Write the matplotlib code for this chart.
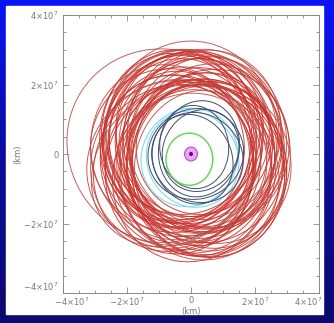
import numpy as np
import matplotlib
matplotlib.use("Agg")
import matplotlib.pyplot as plt
from matplotlib.patches import Ellipse, Circle, Rectangle
from matplotlib.transforms import ScaledTranslation

# units of 1e7 km
tick_vals = [-4, -2, 0, 2, 4]
tick_labels = [r'$-4{\times}10^7$', r'$-2{\times}10^7$', '0', r'$2{\times}10^7$', r'$4{\times}10^7$']

# red orbits: centre x, centre y, width, height, angle (deg)
red_cx = [-0.75, 0.00, 0.40, 0.60, -0.55, 0.25, -0.35, 0.50, -0.60, 0.10,
          0.40, -0.25, 0.50, -0.50, 0.30, -0.10, 0.45, -0.40, 0.20, 0.65,
          -0.30, 0.10, 0.35, -0.55, 0.45, -0.20, 0.25, -0.45, 0.60, 0.00,
          -0.35, 0.40, -0.05, 0.25, -0.65, 0.50, 0.15, -0.25, 0.40, -0.45,
          0.05, -0.15, 0.55, -0.40, -0.60, -0.45, 0.40, -0.35, 0.30]
red_cy = [0.20, 0.45, -0.50, -0.10, -0.40, 0.40, 0.55, -0.40, 0.10, -0.55,
          0.30, -0.25, 0.45, 0.40, -0.15, 0.60, -0.50, -0.05, 0.25, -0.25,
          0.45, -0.40, 0.10, -0.30, 0.35, 0.25, -0.60, 0.50, 0.10, 0.35,
          -0.45, -0.20, 0.55, 0.40, 0.05, -0.40, -0.15, 0.30, 0.55, -0.25,
          -0.55, 0.60, -0.35, 0.35, -0.20, -0.30, 0.30, 0.25, -0.35]
red_w = [6.30, 5.40, 5.20, 5.40, 5.10, 5.30, 5.00, 5.20, 5.10, 5.30,
         5.10, 4.90, 5.20, 5.00, 5.00, 5.10, 5.10, 4.90, 5.00, 5.00,
         5.00, 5.10, 4.80, 5.20, 5.00, 4.80, 5.10, 5.00, 5.00, 5.50,
         4.90, 5.00, 4.80, 5.10, 5.20, 5.00, 4.80, 4.90, 5.00, 5.10,
         4.90, 4.90, 4.90, 5.00, 5.40, 5.60, 4.30, 4.30, 4.40]
red_h = [5.60, 5.60, 4.90, 5.00, 4.70, 5.00, 4.70, 4.90, 4.70, 4.90,
         4.80, 4.60, 4.90, 4.70, 4.60, 4.80, 4.80, 4.60, 4.70, 4.60,
         4.70, 4.80, 4.50, 4.80, 4.70, 4.50, 4.80, 4.70, 4.60, 5.10,
         4.60, 4.70, 4.50, 4.80, 4.80, 4.70, 4.50, 4.60, 4.70, 4.70,
         4.60, 4.60, 4.60, 4.70, 4.60, 4.40, 4.00, 4.00, 4.10]
red_ang = [-15, 0, 10, 80, 30, -40, 60, 120, -10, 45,
           150, 20, -60, 100, 75, 5, 135, -25, 90, 160,
           40, -70, 110, 15, 55, 170, -35, 95, 25, 140,
           65, -5, 125, 35, -50, 85, 155, -80, 50, 115,
           0, 30, 140, 70, 20, 30, 30, 110, 70]
red_col = ['#b8504c', '#b8504c', '#c44a44', '#b8504c', '#c7332b', '#c7332b', '#b8504c', '#c7332b', '#d02e26', '#c7332b',
           '#d02e26', '#c7332b', '#b8504c', '#c7332b', '#d02e26', '#c44a44', '#c7332b', '#d02e26', '#d02e26', '#c44a44',
           '#d02e26', '#c7332b', '#d02e26', '#c44a44', '#c7332b', '#d02e26', '#c44a44', '#d02e26', '#c7332b', '#b8504c',
           '#d02e26', '#c7332b', '#d02e26', '#c44a44', '#b8504c', '#c7332b', '#d02e26', '#d02e26', '#c44a44', '#c7332b',
           '#c44a44', '#d02e26', '#c7332b', '#d02e26', '#b8504c', '#b8504c', '#c7332b', '#d02e26', '#c44a44']

# dark blue orbits
blue_cx = [0.15, 0.25, 0.05, 0.30, 0.10, 0.20]
blue_cy = [0.00, 0.15, -0.15, 0.10, 0.20, -0.10]
blue_w = [3.00, 2.80, 2.70, 2.50, 2.40, 2.90]
blue_h = [2.60, 2.50, 2.40, 2.25, 2.15, 2.55]
blue_ang = [10, 70, 130, 40, 100, 160]

# cyan orbits
cyan_cx = [-0.05, 0.05]
cyan_cy = [-0.10, -0.15]
cyan_w = [3.05, 2.95]
cyan_h = [2.80, 2.70]
cyan_ang = [20, -30]

# green orbit, central body
green = (-0.05, -0.15, 1.46, 1.50)
body_r = 0.2
core_r = 0.06

fig = plt.figure(figsize=(3.34, 3.23), dpi=100)

# blue slide background with a vertical gradient
bg = fig.add_axes([0, 0, 1, 1], zorder=-2)
grad = np.linspace(0, 1, 256).reshape(-1, 1)
bg.imshow(grad, aspect='auto', extent=[0, 1, 0, 1], origin='upper',
          cmap=matplotlib.colors.LinearSegmentedColormap.from_list('slide', ['#0a14f8', '#0b0c9a', '#0a0a70']))
bg.add_patch(Rectangle((6 / 334, 9 / 323), 317 / 334, 308 / 323, color='white', transform=bg.transAxes))
bg.set_xlim(0, 1)
bg.set_ylim(0, 1)
bg.axis('off')

ax = fig.add_axes([63 / 334, 30 / 323, 256 / 334, 278 / 323])
ax.set_facecolor('none')

for i in range(len(red_cx)):
    ax.add_patch(Ellipse((red_cx[i], red_cy[i]), red_w[i], red_h[i], angle=red_ang[i],
                         fill=False, ec=red_col[i], lw=0.7, alpha=0.9))
for i in range(len(cyan_cx)):
    ax.add_patch(Ellipse((cyan_cx[i], cyan_cy[i]), cyan_w[i], cyan_h[i], angle=cyan_ang[i],
                         fill=False, ec='#7fdcec', lw=0.8))
for i in range(len(blue_cx)):
    ax.add_patch(Ellipse((blue_cx[i], blue_cy[i]), blue_w[i], blue_h[i], angle=blue_ang[i],
                         fill=False, ec='#3e4e70', lw=0.7))
ax.add_patch(Ellipse(green[:2], green[2], green[3], fill=False, ec='#6ad65a', lw=1.1))
ax.add_patch(Circle((0, 0), body_r, fc='#eaa6f2', ec='#c046d4', lw=0.8))
ax.add_patch(Circle((0, 0), core_r, fc='#5a0a70', ec='none'))

ax.set_xlim(-4, 4)
ax.set_ylim(-4, 4)
ax.set_xticks(tick_vals)
ax.set_yticks(tick_vals)
ax.set_xticklabels(tick_labels)
ax.set_yticklabels(tick_labels)
ax.set_xticks(np.arange(-4, 4.01, 0.5), minor=True)
ax.set_yticks(np.arange(-4, 4.01, 0.5), minor=True)
ax.tick_params(which='both', direction='in', top=True, right=True, color='#888888',
               width=0.6, labelsize=6, labelcolor='#777777')
ax.tick_params(axis='x', pad=2)
ax.tick_params(axis='y', pad=3)
ax.tick_params(which='major', length=4)
ax.tick_params(which='minor', length=2)
for s in ax.spines.values():
    s.set_color('#888888')
    s.set_linewidth(0.7)
ax.set_xlabel('(km)', fontsize=6, color='#777777', labelpad=-1)
ax.set_ylabel('(km)', fontsize=6, color='#777777', labelpad=1)

# edge labels sit a little inward, as in the original
xl = ax.get_xticklabels()
xl[0].set_ha('left')
xl[0].set_transform(xl[0].get_transform() + ScaledTranslation(-9 / 100, 0, fig.dpi_scale_trans))
xl[-1].set_ha('right')
xl[-1].set_transform(xl[-1].get_transform() + ScaledTranslation(3 / 100, 0, fig.dpi_scale_trans))
yl = ax.get_yticklabels()
yl[0].set_va('bottom')

fig.savefig('out.png', dpi=100)
